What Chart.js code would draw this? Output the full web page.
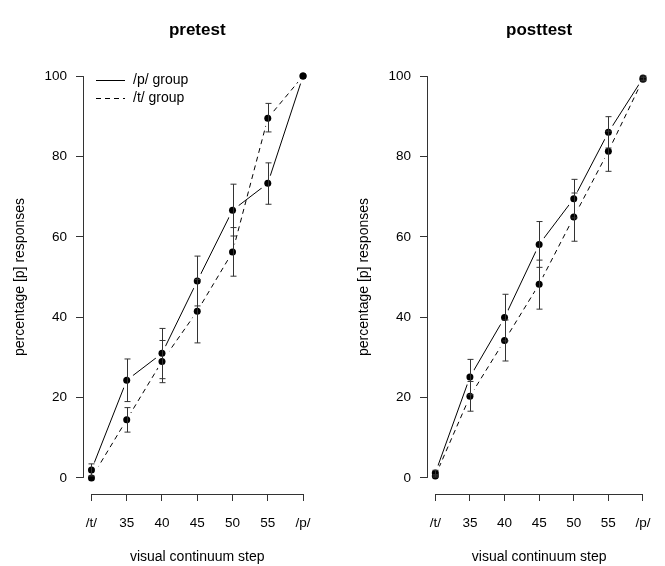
<!DOCTYPE html>
<html>
<head>
<meta charset="utf-8">
<script src="https://cdn.jsdelivr.net/npm/chart.js@4.4.1/dist/chart.umd.min.js"></script>
<style>
  html, body { margin: 0; padding: 0; background: #fff; }
  #wrap { position: relative; width: 665px; height: 566px; overflow: hidden; }
  canvas { position: absolute; top: 0; }
</style>
</head>
<body>
<div id="wrap">
  <canvas id="pre" width="332" height="566" style="left:0px"></canvas>
  <canvas id="post" width="333" height="566" style="left:332px"></canvas>
</div>
<script>
// x categories and y ticks
var xLabels = ['/t/', '35', '40', '45', '50', '55', '/p/'];
var yTicks = [0, 20, 40, 60, 80, 100];
var seriesNames = ['/p/ group', '/t/ group'];

// pretest (mean, lower, upper)
var preP = [2, 24.3, 31, 49, 66.6, 73.3, 100];
var preP_lo = [0.5, 19, 24.7, 42.8, 60.2, 68.1, 100];
var preP_hi = [3.5, 29.6, 37.2, 55.2, 73.1, 78.4, 100];
var preT = [0, 14.5, 29, 41.5, 56.2, 89.5, 100];
var preT_lo = [0, 11.4, 23.7, 33.6, 50.2, 86.1, 100];
var preT_hi = [0, 17.5, 34.2, 49.4, 62.3, 93.2, 100];

// posttest
var postP = [1.2, 25.1, 39.9, 58.1, 69.5, 86, 99.5];
var postP_lo = [0.5, 20.7, 34.1, 52.4, 64.7, 82.1, 99];
var postP_hi = [1.9, 29.5, 45.7, 63.8, 74.3, 89.9, 100];
var postT = [0.5, 20.3, 34.2, 48.2, 64.9, 81.3, 99.2];
var postT_lo = [0.2, 16.6, 29.1, 42, 58.9, 76.3, 98.8];
var postT_hi = [0.8, 24, 39.3, 54.2, 70.9, 86.3, 99.6];

var FONT = "'Liberation Sans', Arial, Helvetica, sans-serif";
var INK = '#000';
var AXIS = '#333';
var DASH = [5, 4];

function pts(arr) {
  return arr.map(function(v, i) { return {x: i, y: v}; });
}

// error bars, R style axis lines and the in-plot legend
var rBits = {
  id: 'rBits',
  afterDraw: function(chart, args, opts) {
    var ctx = chart.ctx, xs = chart.scales.x, ys = chart.scales.y;
    ctx.save();
    ctx.strokeStyle = AXIS;
    ctx.lineWidth = 1;
    chart.data.datasets.forEach(function(ds) {
      if (!ds.errLo) return;
      ds.errLo.forEach(function(lo, i) {
        var hi = ds.errHi[i];
        if (hi - lo < 0.01) return;
        var px = Math.round(xs.getPixelForValue(i)) + 0.5;
        var y1 = ys.getPixelForValue(lo), y2 = ys.getPixelForValue(hi);
        ctx.beginPath();
        ctx.moveTo(px, y1); ctx.lineTo(px, y2);
        ctx.moveTo(px - 3, y1); ctx.lineTo(px + 3, y1);
        ctx.moveTo(px - 3, y2); ctx.lineTo(px + 3, y2);
        ctx.stroke();
      });
    });
    // axis lines only between first and last tick
    var ca = chart.chartArea;
    var lx = Math.round(ca.left) + 0.5, by = Math.round(ca.bottom) + 0.5;
    ctx.beginPath();
    ctx.moveTo(lx, ys.getPixelForValue(yTicks[0]));
    ctx.lineTo(lx, ys.getPixelForValue(yTicks[yTicks.length - 1]));
    ctx.moveTo(xs.getPixelForValue(0), by);
    ctx.lineTo(xs.getPixelForValue(xLabels.length - 1), by);
    ctx.stroke();

    if (opts.legend) {
      var dashes = [[], DASH];
      ctx.font = '14px ' + FONT;
      ctx.textBaseline = 'middle';
      ctx.textAlign = 'left';
      seriesNames.forEach(function(name, k) {
        var ly = Math.round(ca.top + 20 + k * 18) + 0.5;
        ctx.strokeStyle = INK;
        ctx.setLineDash(dashes[k]);
        ctx.beginPath();
        ctx.moveTo(ca.left + 13, ly);
        ctx.lineTo(ca.left + 42, ly);
        ctx.stroke();
        ctx.setLineDash([]);
        ctx.fillStyle = INK;
        ctx.fillText(name, ca.left + 50, ly);
      });
    }
    ctx.restore();
  }
};

function makeChart(id, title, p, pLo, pHi, t, tLo, tHi, padLeft, padRight, legend) {
  var ctx = document.getElementById(id).getContext('2d');
  return new Chart(ctx, {
    type: 'line',
    data: {
      datasets: [
        { data: pts(p), errLo: pLo, errHi: pHi, showLine: false,
          pointRadius: 3.5, pointHoverRadius: 3.5, pointBackgroundColor: INK, pointBorderWidth: 0 },
        { data: pts(t), errLo: tLo, errHi: tHi, showLine: false,
          pointRadius: 3.5, pointHoverRadius: 3.5, pointBackgroundColor: INK, pointBorderWidth: 0 },
        { label: seriesNames[0], data: pts(p), borderColor: INK, borderWidth: 1, fill: false, tension: 0,
          pointRadius: 8, pointHoverRadius: 8, pointBackgroundColor: '#fff', pointBorderWidth: 0 },
        { label: seriesNames[1], data: pts(t), borderColor: INK, borderWidth: 1, borderDash: DASH, fill: false, tension: 0,
          pointRadius: 8, pointHoverRadius: 8, pointBackgroundColor: '#fff', pointBorderWidth: 0 }
      ]
    },
    options: {
      responsive: false,
      animation: false,
      devicePixelRatio: 1,
      events: [],
      layout: { padding: { left: padLeft, right: padRight, top: 0, bottom: 0 } },
      scales: {
        x: {
          type: 'linear', min: -0.24, max: 6.24,
          afterBuildTicks: function(ax) { ax.ticks = xLabels.map(function(l, i) { return {value: i}; }); },
          afterFit: function(ax) { ax.height = 72; },
          grid: { drawOnChartArea: false, drawTicks: true, tickLength: 7, color: AXIS },
          border: { display: false },
          ticks: { autoSkip: false, maxRotation: 0, padding: 14, color: INK, font: { family: FONT, size: 13.5 },
                   callback: function(v) { return xLabels[v]; } },
          title: { display: true, text: 'visual continuum step', color: INK, font: { family: FONT, size: 14 },
                   padding: { top: 0, bottom: 0 } }
        },
        y: {
          type: 'linear', min: -4, max: 104,
          afterBuildTicks: function(ax) { ax.ticks = yTicks.map(function(v) { return {value: v}; }); },
          afterFit: function(ax) { ax.width = 83; },
          grid: { drawOnChartArea: false, drawTicks: true, tickLength: 7, color: AXIS },
          border: { display: false },
          ticks: { padding: 9, color: INK, font: { family: FONT, size: 13.5 } },
          title: { display: true, text: 'percentage [p] responses', color: INK, font: { family: FONT, size: 14 },
                   padding: { top: 12, bottom: 0 } }
        }
      },
      plugins: {
        tooltip: { enabled: false },
        legend: { display: false },
        title: { display: true, text: title, fullSize: false, color: INK,
                 font: { family: FONT, size: 17, weight: 'bold' }, padding: { top: 20, bottom: 19.6 } },
        rBits: { legend: legend }
      }
    },
    plugins: [rBits]
  });
}

makeChart('pre', 'pretest', preP, preP_lo, preP_hi, preT, preT_lo, preT_hi, 0, 20.5, true);
makeChart('post', 'posttest', postP, postP_lo, postP_hi, postT, postT_lo, postT_hi, 12, 9.6, false);
</script>
</body>
</html>
